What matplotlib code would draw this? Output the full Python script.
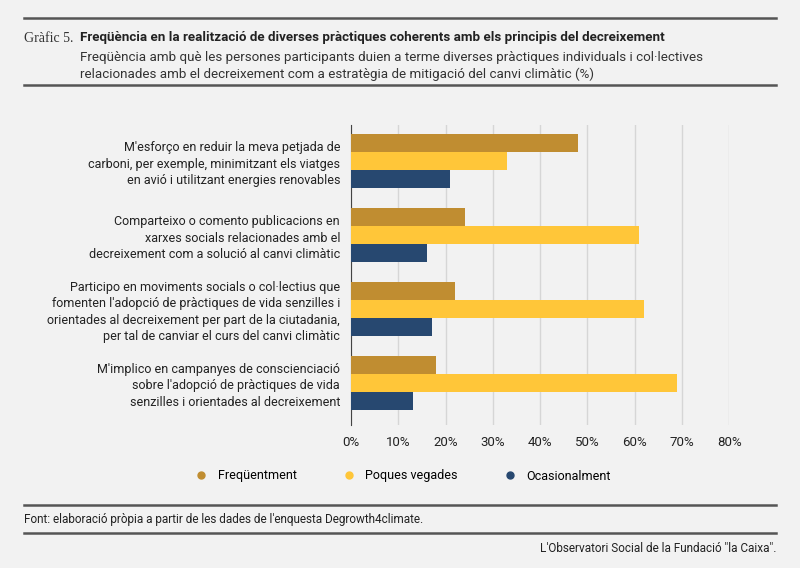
import matplotlib
matplotlib.use('Agg')
import matplotlib.pyplot as plt
from matplotlib.lines import Line2D
import numpy as np

plt.rcParams['font.family'] = ['Roboto', 'DejaVu Sans']

CATEGORIES = [
    "M'esforço en reduir la meva petjada de\ncarboni, per exemple, minimitzant els viatges\nen avió i utilitzant energies renovables",
    "Comparteixo o comento publicacions en\nxarxes socials relacionades amb el\ndecreixement com a solució al canvi climàtic",
    "Participo en moviments socials o col·lectius que\nfomenten l'adopció de pràctiques de vida senzilles i\norientades al decreixement per part de la ciutadania,\nper tal de canviar el curs del canvi climàtic",
    "M'implico en campanyes de conscienciació\nsobre l'adopció de pràctiques de vida\nsenzilles i orientades al decreixement",
]
FREQUENTMENT = [48, 24, 22, 18]
POQUES_VEGADES = [33, 61, 62, 69]
OCASIONALMENT = [21, 16, 17, 13]
SERIES = ["Freqüentment", "Poques vegades", "Ocasionalment"]
COLORS = ['#c08d31', '#ffc639', '#274870']

bg = '#f2f2f2'
fig = plt.figure(figsize=(8, 5.68), dpi=100, facecolor=bg)
ax = fig.add_axes([0.439, 0.252, 0.4725, 0.528], facecolor=bg)

y = np.arange(len(CATEGORIES))
h = 0.243
for i, vals in enumerate([FREQUENTMENT, POQUES_VEGADES, OCASIONALMENT]):
    ax.barh(y + (i - 1) * h, vals, height=h, color=COLORS[i], label=SERIES[i], zorder=3)

ax.set_xlim(0, 80)
ax.set_ylim(3.57, -0.485)
ax.set_xticks(range(0, 81, 10))
ax.set_xticklabels([f"{v}%" for v in range(0, 81, 10)], fontsize=9.5, color='#222222')
ax.set_yticks(y)
ax.set_yticklabels(CATEGORIES, fontsize=9, color='#222222', linespacing=1.35)
ax.tick_params(length=0, pad=8)
ax.xaxis.grid(True, color='#d6d6d6', linewidth=1, zorder=0)
for s in ['top', 'right', 'bottom']:
    ax.spines[s].set_visible(False)
ax.spines['left'].set_color('#444444')

handles = [Line2D([], [], marker='o', linestyle='', color=c, markersize=5) for c in COLORS]
fig.legend(handles, SERIES, loc='center', bbox_to_anchor=(0.5, 1 - 476 / 568), ncol=3,
           frameon=False, fontsize=9, columnspacing=3.2, handletextpad=0.3)

for yy in [18, 85, 505, 533]:
    fig.add_artist(Line2D([24 / 800, 776 / 800], [1 - yy / 568] * 2, color='#555555', linewidth=1.8))

fig.text(24 / 800, 1 - 38 / 568, "Gràfic 5.", fontsize=10, family='Liberation Serif', color='#333333', va='center')
fig.text(80 / 800, 1 - 38 / 568, "Freqüència en la realització de diverses pràctiques coherents amb els principis del decreixement",
         fontsize=9.6, fontweight='bold', color='#222222', va='center')
fig.text(80 / 800, 1 - 57 / 568, "Freqüència amb què les persones participants duien a terme diverses pràctiques individuals i col·lectives",
         fontsize=9.6, color='#333333', va='center')
fig.text(80 / 800, 1 - 74 / 568, "relacionades amb el decreixement com a estratègia de mitigació del canvi climàtic (%)",
         fontsize=9.6, color='#333333', va='center')
fig.text(24 / 800, 1 - 520 / 568, "Font: elaboració pròpia a partir de les dades de l'enquesta Degrowth4climate.",
         fontsize=8.5, color='#222222', va='center')
fig.text(776 / 800, 1 - 548 / 568, "L'Observatori Social de la Fundació \"la Caixa\".",
         fontsize=8.5, color='#222222', va='center', ha='right')

fig.savefig('out.png', dpi=100, facecolor=bg)
